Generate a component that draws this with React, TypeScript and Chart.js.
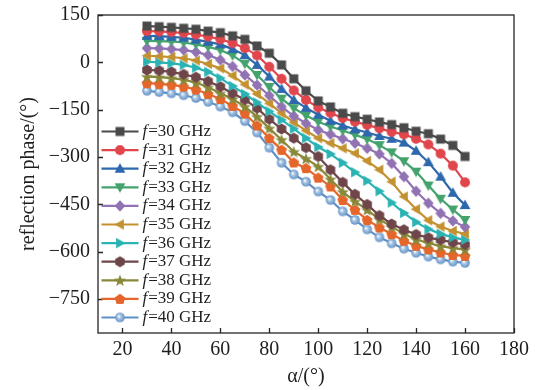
import React, { useEffect, useRef } from 'react';
import { Chart, registerables } from 'chart.js';

Chart.register(...registerables);

// ---------- data ----------
const alphaDeg = [30, 35, 40, 45, 50, 55, 60, 65, 70, 75, 80, 85, 90, 95, 100, 105, 110, 115, 120, 125, 130, 135, 140, 145, 150, 155, 160];
const freqGHz = [30, 31, 32, 33, 34, 35, 36, 37, 38, 39, 40];

const phase30 = [115, 113, 111, 108, 105, 99, 94, 84, 73, 52, 29, -8, -52, -90, -122, -141, -161, -172, -180, -189, -197, -207, -218, -226, -243, -263, -298];
const phase31 = [99, 98, 96, 93, 88, 82, 73, 61, 45, 22, -14, -52, -89, -119, -143, -160, -176, -188, -198, -209, -220, -228, -242, -260, -289, -327, -380];
const phase32 = [84, 83, 81, 78, 72, 65, 57, 42, 23, -8, -45, -84, -119, -144, -166, -185, -200, -212, -222, -233, -242, -254, -280, -316, -362, -413, -452];
const phase33 = [68, 67, 66, 63, 57, 49, 39, 22, -4, -40, -78, -115, -145, -168, -188, -203, -216, -229, -243, -262, -285, -313, -346, -390, -432, -466, -499];
const phase34 = [45, 44, 42, 39, 33, 23, 8, -13, -40, -72, -105, -140, -170, -193, -214, -228, -242, -256, -272, -290, -320, -362, -408, -446, -478, -502, -521];
const phase35 = [21, 19, 17, 13, 6, -5, -19, -42, -70, -100, -130, -161, -190, -216, -240, -256, -272, -288, -312, -340, -378, -425, -465, -500, -520, -534, -543];
const phase36 = [2, 0, -3, -8, -17, -30, -50, -75, -100, -127, -155, -182, -210, -240, -268, -290, -318, -348, -375, -408, -444, -477, -506, -528, -543, -554, -562];
const phase37 = [-24, -26, -30, -38, -47, -60, -77, -98, -118, -145, -180, -211, -240, -270, -298, -340, -380, -418, -450, -485, -512, -530, -545, -555, -562, -570, -577];
const phase38 = [-45, -47, -50, -55, -64, -79, -98, -116, -140, -172, -209, -245, -283, -305, -330, -370, -410, -440, -467, -497, -520, -543, -561, -572, -582, -588, -593];
const phase39 = [-66, -68, -71, -77, -86, -100, -116, -138, -162, -200, -240, -277, -317, -335, -365, -393, -436, -467, -499, -523, -544, -565, -581, -592, -602, -610, -613];
const phase40 = [-90, -94, -98, -104, -113, -125, -140, -158, -186, -222, -270, -318, -355, -378, -409, -436, -472, -499, -529, -554, -573, -590, -603, -615, -624, -631, -635];

const yTickValues = [150, 0, -150, -300, -450, -600, -750];
const xTickValues = [20, 40, 60, 80, 100, 120, 140, 160, 180];

// ---------- styles ----------
const seriesValues = [phase30, phase31, phase32, phase33, phase34, phase35, phase36, phase37, phase38, phase39, phase40];
const seriesColors = ['#4a4a4a', '#e0464c', '#2d68ad', '#44a26c', '#9172b2', '#c3912f', '#2bb3b4', '#6e4649', '#888838', '#e4662b', '#5f90c5'];
const seriesMarkers = ['square', 'circle', 'triUp', 'triDown', 'diamond', 'triLeft', 'triRight', 'hexagon', 'star', 'pentagon', 'sphere'];

const FONT = '"Liberation Serif", "Times New Roman", serif';
const TEXT = '#1e1e1e';

function polygon(ctx: CanvasRenderingContext2D, cx: number, cy: number, r: number, n: number, start: number) {
  ctx.beginPath();
  for (let i = 0; i < n; i++) {
    const a = start + (i * 2 * Math.PI) / n;
    const px = cx + r * Math.cos(a);
    const py = cy + r * Math.sin(a);
    if (i === 0) ctx.moveTo(px, py); else ctx.lineTo(px, py);
  }
  ctx.closePath();
  ctx.fill();
}

function makeMarker(kind: string, color: string): HTMLCanvasElement {
  const size = 16;
  const c = document.createElement('canvas');
  c.width = size; c.height = size;
  const ctx = c.getContext('2d')!;
  const cx = size / 2, cy = size / 2;
  ctx.fillStyle = color;
  switch (kind) {
    case 'square':
      ctx.fillRect(cx - 4.5, cy - 4.5, 9, 9);
      break;
    case 'circle':
      ctx.beginPath(); ctx.arc(cx, cy, 5, 0, Math.PI * 2); ctx.fill();
      break;
    case 'triUp':
      polygon(ctx, cx, cy + 0.8, 6.2, 3, -Math.PI / 2);
      break;
    case 'triDown':
      polygon(ctx, cx, cy - 0.8, 6.2, 3, Math.PI / 2);
      break;
    case 'triLeft':
      polygon(ctx, cx + 0.8, cy, 6.2, 3, Math.PI);
      break;
    case 'triRight':
      polygon(ctx, cx - 0.8, cy, 6.2, 3, 0);
      break;
    case 'diamond':
      ctx.beginPath();
      ctx.moveTo(cx, cy - 5.7); ctx.lineTo(cx + 5.3, cy); ctx.lineTo(cx, cy + 5.7); ctx.lineTo(cx - 5.3, cy);
      ctx.closePath(); ctx.fill();
      break;
    case 'hexagon':
      polygon(ctx, cx, cy, 5.5, 6, -Math.PI / 2);
      break;
    case 'pentagon':
      polygon(ctx, cx, cy + 0.4, 5.7, 5, -Math.PI / 2);
      break;
    case 'star': {
      ctx.beginPath();
      for (let i = 0; i < 10; i++) {
        const r = i % 2 === 0 ? 6.4 : 2.7;
        const a = -Math.PI / 2 + (i * Math.PI) / 5;
        const px = cx + r * Math.cos(a), py = cy + 0.6 + r * Math.sin(a);
        if (i === 0) ctx.moveTo(px, py); else ctx.lineTo(px, py);
      }
      ctx.closePath(); ctx.fill();
      break;
    }
    case 'sphere': {
      const g = ctx.createRadialGradient(cx - 1.3, cy - 1.3, 0.3, cx, cy, 4.9);
      g.addColorStop(0, '#ffffff');
      g.addColorStop(0.35, '#a9c6e3');
      g.addColorStop(1, color);
      ctx.fillStyle = g;
      ctx.beginPath(); ctx.arc(cx, cy, 4.8, 0, Math.PI * 2); ctx.fill();
      break;
    }
  }
  return c;
}

export default function App() {
  const canvasRef = useRef<HTMLCanvasElement | null>(null);

  useEffect(() => {
    if (!canvasRef.current) return;
    const markers = seriesMarkers.map((m, i) => makeMarker(m, seriesColors[i]));

    const datasets = seriesValues.map((vals, i) => ({
      label: `f=${freqGHz[i]} GHz`,
      data: vals.map((v, j) => ({ x: alphaDeg[j], y: v })),
      borderColor: seriesColors[i],
      backgroundColor: seriesColors[i],
      borderWidth: 2.2,
      pointStyle: markers[i] as any,
      pointRadius: 5,
      tension: 0,
    }));

    const framePlugin = {
      id: 'frameAndLegend',
      afterDraw(chart: any) {
        const { ctx, chartArea, scales } = chart;
        const { left, right, top, bottom } = chartArea;
        ctx.save();
        ctx.strokeStyle = '#262626';
        ctx.lineWidth = 1.3;
        ctx.strokeRect(left, top, right - left, bottom - top);
        ctx.beginPath();
        for (const v of xTickValues) {
          const px = Math.round(scales.x.getPixelForValue(v)) + 0.5;
          ctx.moveTo(px, bottom); ctx.lineTo(px, bottom - 5);
        }
        for (const v of yTickValues) {
          const py = Math.round(scales.y.getPixelForValue(v)) + 0.5;
          ctx.moveTo(left, py); ctx.lineTo(left + 5, py);
        }
        ctx.stroke();

        // legend
        const x0 = left + 3.5;
        const y0 = 131.5;
        const dy = 18.6;
        freqGHz.forEach((f, i) => {
          const cy = y0 + i * dy;
          ctx.strokeStyle = seriesColors[i];
          ctx.lineWidth = 2.2;
          ctx.beginPath(); ctx.moveTo(x0, cy); ctx.lineTo(x0 + 37, cy); ctx.stroke();
          const m = markers[i];
          ctx.drawImage(m, x0 + 18.5 - m.width / 2, cy - m.height / 2);
          ctx.fillStyle = TEXT;
          ctx.textBaseline = 'middle';
          ctx.textAlign = 'left';
          ctx.font = `italic 17px ${FONT}`;
          const tx = x0 + 41;
          ctx.fillText('f', tx, cy);
          const w = ctx.measureText('f').width;
          ctx.font = `17px ${FONT}`;
          ctx.fillText(`=${f} GHz`, tx + w + 1, cy);
        });
        ctx.restore();
      },
    };

    const chart = new Chart(canvasRef.current, {
      type: 'line',
      data: { datasets },
      options: {
        animation: false,
        responsive: true,
        maintainAspectRatio: false,
        events: [],
        layout: { padding: { left: 0, top: 15, right: 36, bottom: 0 } },
        plugins: { legend: { display: false }, tooltip: { enabled: false } },
        scales: {
          x: {
            type: 'linear',
            min: 10,
            max: 180,
            afterBuildTicks: (s: any) => { s.ticks = xTickValues.map((v) => ({ value: v })); },
            afterFit: (s: any) => { s.height = 57; s.paddingLeft = 0; s.paddingRight = 0; },
            grid: { display: false, drawTicks: false },
            border: { display: false },
            ticks: { color: TEXT, font: { family: FONT, size: 20 }, padding: 5, maxRotation: 0 },
            title: { display: true, text: 'α/(°)', color: TEXT, font: { family: FONT, size: 20 }, padding: { top: 0, bottom: 1 } },
          },
          y: {
            type: 'linear',
            min: -857,
            max: 150,
            afterBuildTicks: (s: any) => { s.ticks = yTickValues.map((v) => ({ value: v })); },
            afterFit: (s: any) => { s.width = 98; s.paddingTop = 0; s.paddingBottom = 0; },
            grid: { display: false, drawTicks: false },
            border: { display: false },
            ticks: {
              color: TEXT,
              font: { family: FONT, size: 20 },
              padding: 8,
              callback: (v: any) => (Number(v) < 0 ? '\u2212' + Math.abs(Number(v)) : String(v)),
            },
            title: { display: true, text: 'reflection phase/(°)', color: TEXT, font: { family: FONT, size: 20 }, padding: { top: 17, bottom: 0 } },
          },
        },
      },
      plugins: [framePlugin],
    });
    return () => chart.destroy();
  }, []);

  return (
    <div style={{ position: 'absolute', left: 0, top: 0, width: 550, height: 390, background: '#fff' }}>
      <canvas ref={canvasRef} />
    </div>
  );
}
